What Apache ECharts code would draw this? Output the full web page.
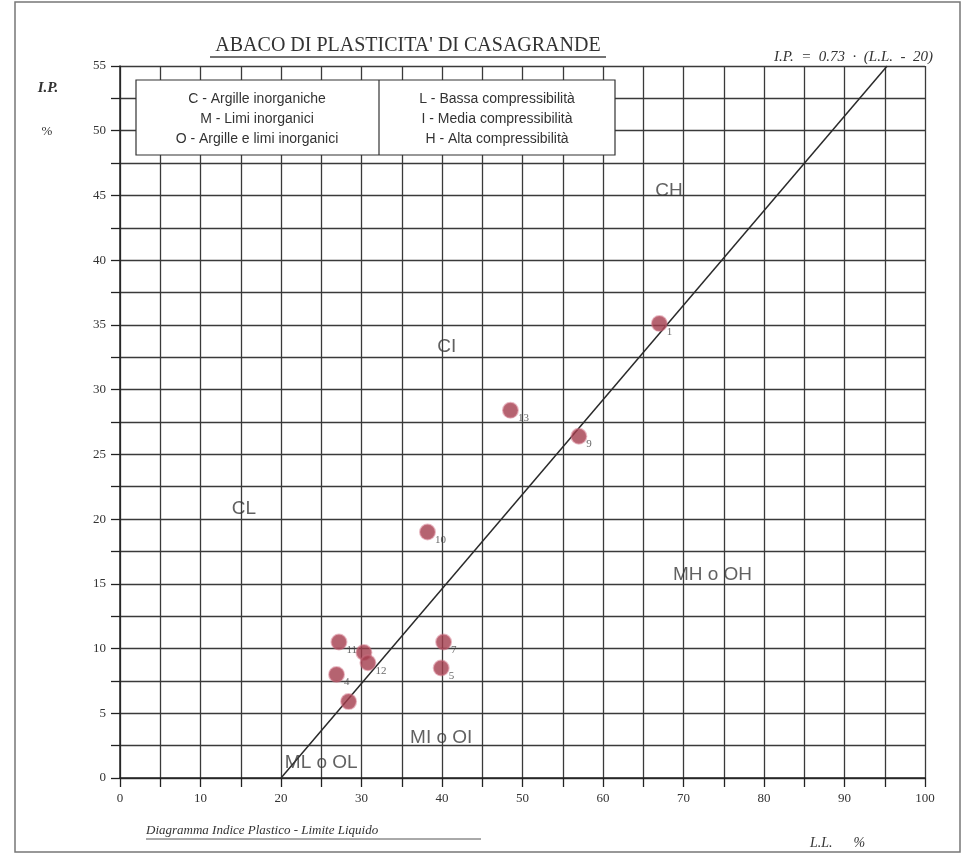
<!DOCTYPE html>
<html>
<head>
<meta charset="utf-8">
<script src="https://cdn.jsdelivr.net/npm/echarts@6/dist/echarts.min.js"></script>
<style>html,body{margin:0;padding:0;background:#fff}#c{width:967px;height:856px}</style>
</head>
<body>
<div id="c"></div>
<script>
// Liquid limit (L.L. %) and plasticity index (I.P. %) of the samples
var sampleLL = [67, 48.5, 57, 38.2, 27.2, 30.3, 30.8, 26.9, 28.4, 40.2, 39.9];
var sampleIP = [35.1, 28.4, 26.4, 19.0, 10.5, 9.7, 8.9, 8.0, 5.9, 10.5, 8.5];
var sampleTag = ['1', '13', '9', '10', '11', '', '12', '4', '', '7', '5'];
// A-line: I.P. = 0.73 (L.L. - 20)
var aLineLL = [20, 95.3];
var aLineIP = [0, 55];
// Zone names
var zoneName = ['CH', 'CI', 'CL', 'MH o OH', 'MI o OI', 'ML o OL'];
var zoneLL = [68.2, 40.6, 15.4, 73.6, 39.9, 25.0];
var zoneIP = [45.4, 33.3, 20.8, 15.7, 3.1, 1.2];
// Axis ticks
var xTickLabels = [0, 10, 20, 30, 40, 50, 60, 70, 80, 90, 100];
var yTickLabels = [0, 5, 10, 15, 20, 25, 30, 35, 40, 45, 50, 55];
var legendLeft = ['C - Argille inorganiche', 'M - Limi inorganici', 'O - Argille e limi inorganici'];
var legendRight = ['L - Bassa compressibilità', 'I - Media compressibilità', 'H - Alta compressibilità'];

var serif = '"Liberation Serif", "DejaVu Serif", serif';
var sans = '"Liberation Sans", Arial, sans-serif';

var chart = echarts.init(document.getElementById('c'), null, {renderer: 'canvas'});

var pts = sampleLL.map(function (v, i) { return {value: [v, sampleIP[i]], tag: sampleTag[i]}; });
var zones = zoneName.map(function (n, i) { return {value: [zoneLL[i], zoneIP[i]], name: n}; });
var aLine = aLineLL.map(function (v, i) { return [v, aLineIP[i]]; });

function legendTexts(lines, cx) {
  return lines.map(function (t, i) {
    return {type: 'text', x: cx, y: 99 + i * 20, z: 101,
      style: {text: t, font: '14px ' + sans, fill: '#333', textAlign: 'center', textVerticalAlign: 'middle'}};
  });
}

var option = {
  backgroundColor: '#fff',
  animation: false,
  grid: {left: 120, right: 42, top: 66, bottom: 78},
  xAxis: {
    type: 'value', min: 0, max: 100, interval: 5,
    axisLine: {show: true, onZero: false, lineStyle: {color: '#222', width: 1.5}},
    axisTick: {show: true, inside: false, length: 9, lineStyle: {color: '#222', width: 1.3}},
    axisLabel: {color: '#333', fontFamily: serif, fontSize: 13, margin: 14,
      formatter: function (v) { return xTickLabels.indexOf(v) >= 0 ? String(v) : ''; }},
    splitLine: {show: true, lineStyle: {color: '#3a3a3a', width: 1.3}}
  },
  yAxis: {
    type: 'value', min: 0, max: 55, interval: 2.5,
    axisLine: {show: true, onZero: false, lineStyle: {color: '#222', width: 1.5}},
    axisTick: {show: true, inside: false, length: 9, lineStyle: {color: '#222', width: 1.3}},
    axisLabel: {color: '#333', fontFamily: serif, fontSize: 13, margin: 14,
      formatter: function (v) { return yTickLabels.indexOf(v) >= 0 ? String(v) : ''; }},
    splitLine: {show: true, lineStyle: {color: '#3a3a3a', width: 1.3}}
  },
  series: [
    {
      type: 'line', data: aLine, symbol: 'none', z: 3,
      lineStyle: {color: '#2a2a2a', width: 1.5}
    },
    {
      type: 'scatter', data: zones, symbolSize: 0, z: 4, silent: true,
      label: {show: true, position: 'inside', formatter: function (p) { return p.data.name; },
        color: '#3a3a3a', fontFamily: sans, fontSize: 19}
    },
    {
      type: 'scatter', data: pts, symbolSize: 15, z: 5,
      itemStyle: {color: '#a23c4c', borderColor: 'rgba(205,110,130,0.6)', borderWidth: 2},
      label: {show: true, position: 'right', distance: 0, offset: [-1, 8],
        formatter: function (p) { return p.data.tag; },
        color: '#444', fontFamily: serif, fontSize: 11}
    }
  ],
  graphic: [
    {type: 'rect', z: 0, shape: {x: 15, y: 2, width: 945, height: 850},
      style: {fill: 'none', stroke: '#777', lineWidth: 1.5}},
    {type: 'text', z: 100, x: 408, y: 46,
      style: {text: "ABACO DI PLASTICITA' DI CASAGRANDE", font: '20px ' + serif, fill: '#333', textAlign: 'center', textVerticalAlign: 'middle'}},
    {type: 'line', z: 100, shape: {x1: 210, y1: 57, x2: 606, y2: 57}, style: {stroke: '#444', lineWidth: 1.4}},
    {type: 'text', z: 100, x: 933, y: 57,
      style: {text: 'I.P.  =  0.73  ·  (L.L.  -  20)', font: 'italic 15px ' + serif, fill: '#333', textAlign: 'right', textVerticalAlign: 'middle'}},
    {type: 'text', z: 100, x: 48, y: 88,
      style: {text: 'I.P.', font: 'italic bold 15px ' + serif, fill: '#333', textAlign: 'center', textVerticalAlign: 'middle'}},
    {type: 'text', z: 100, x: 47, y: 132,
      style: {text: '%', font: '13px ' + serif, fill: '#333', textAlign: 'center', textVerticalAlign: 'middle'}},
    {type: 'text', z: 100, x: 146, y: 831,
      style: {text: 'Diagramma Indice Plastico - Limite Liquido', font: 'italic 13px ' + serif, fill: '#333', textAlign: 'left', textVerticalAlign: 'middle'}},
    {type: 'line', z: 100, shape: {x1: 146, y1: 839, x2: 481, y2: 839}, style: {stroke: '#555', lineWidth: 1}},
    {type: 'text', z: 100, x: 810, y: 843,
      style: {text: 'L.L.      %', font: 'italic 14px ' + serif, fill: '#333', textAlign: 'left', textVerticalAlign: 'middle'}},
    {type: 'rect', z: 100, shape: {x: 136, y: 80, width: 479, height: 75},
      style: {fill: '#fff', stroke: '#333', lineWidth: 1.2}},
    {type: 'line', z: 101, shape: {x1: 379, y1: 80, x2: 379, y2: 155}, style: {stroke: '#333', lineWidth: 1.2}}
  ].concat(legendTexts(legendLeft, 257)).concat(legendTexts(legendRight, 497))
};
chart.setOption(option);
</script>
</body>
</html>
